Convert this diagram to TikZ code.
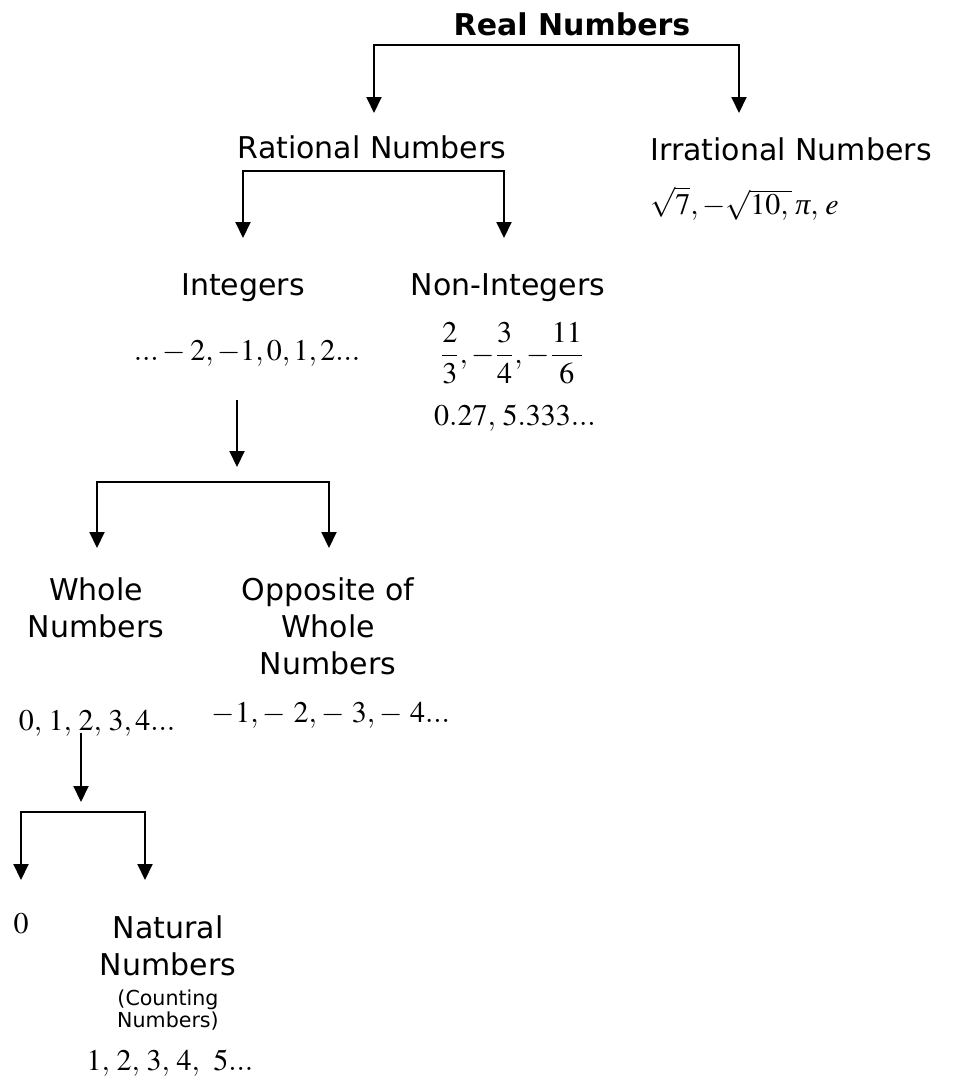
\documentclass[tikz,border=0pt]{standalone}
\usepackage{amsmath}
\usepackage{mathptmx}
\usepackage[no-math]{fontspec}
\setmainfont{DejaVu Sans}
\newfontfamily\timesfont{Liberation Serif}
\newcommand{\itpi}{\text{\timesfont\itshape π}}
\usetikzlibrary{arrows.meta}

\tikzset{
    arr/.style={line width=1pt, -{Triangle[width=7.5pt,length=8pt]}},
    brk/.style={line width=1pt, {Triangle[width=7.5pt,length=8pt]}-{Triangle[width=7.5pt,length=8pt]}},
    lbl/.style={inner sep=0pt, anchor=base, align=center, font=\fontsize{15}{18.5}\selectfont},
    small/.style={inner sep=0pt, anchor=base, align=center, font=\fontsize{10.3}{11}\selectfont}
}

\begin{document}
\begin{tikzpicture}[x=0.5pt, y=-0.5pt]
        \useasboundingbox (0, 0) rectangle (956, 1082);
        %\draw[color=lightgray, step=50] (0, 0) grid (956, 1082);
        \node[lbl, font=\fontsize{15}{18.5}\selectfont\bfseries] (real) at (572, 35) {Real Numbers};
        \node[lbl] (rational) at (372, 158) {Rational Numbers};
        \node[lbl, anchor=base west] (irrational) at (650, 160) {Irrational Numbers};
        \node[lbl, anchor=base west] (irrvals) at (650, 214) {$\sqrt{7},-\sqrt{10,\,}\,\itpi,\,e$};
        \node[lbl] (integers) at (243, 295) {Integers};
        \node[lbl] (nonint) at (508, 295) {Non-Integers};
        \node[lbl] (intvals) at (247, 360) {$...-2, -1, 0, 1, 2...$};
        \node[lbl] (fracs) at (512, 363) {$\dfrac{2}{3},-\dfrac{3}{4},-\dfrac{11}{6}$};
        \node[lbl] (decimals) at (515, 425) {$0.27,\,5.333...$};
        % multi-line nodes: base is the last line
        \node[lbl] (whole) at (96, 637) {Whole\\Numbers};
        \node[lbl] (opposite) at (328, 674) {Opposite of\\Whole\\Numbers};
        \node[lbl] (wholevals) at (97, 730) {$0,\,1,\,2,\,3,4...$};
        \node[lbl] (oppvals) at (331, 722) {$-1{,}-\,2{,}-\,3{,}-\,4...$};
        \node[lbl] (zero) at (21, 933) {$0$};
        \node[lbl] (natural) at (168, 975) {Natural\\Numbers};
        \node[small] (counting) at (168, 1027) {(Counting\\Numbers)};
        \node[lbl] (natvals) at (170, 1070) {$1,\,2,\,3,\,4,\;\,5...$};
        % brackets
        \coordinate (t1l) at (374, 113);
        \coordinate (t1r) at (739, 113);
        \draw[brk] (t1l) -- (374, 45) -- (739, 45) -- (t1r);
        \coordinate (t2l) at (243, 238);
        \coordinate (t2r) at (504, 238);
        \draw[brk] (t2l) -- (243, 171) -- (504, 171) -- (t2r);
        \coordinate (s3) at (237, 400);
        \coordinate (e3) at (237, 467);
        \draw[arr] (s3) -- (e3);
        \coordinate (t3l) at (97, 548);
        \coordinate (t3r) at (329, 548);
        \draw[brk] (t3l) -- (97, 482) -- (329, 482) -- (t3r);
        \coordinate (s4) at (81, 733);
        \coordinate (e4) at (81, 802);
        \draw[arr] (s4) -- (e4);
        \coordinate (t4l) at (21, 880);
        \coordinate (t4r) at (145, 880);
        \draw[brk] (t4l) -- (21, 812) -- (145, 812) -- (t4r);
\end{tikzpicture}
\end{document}
